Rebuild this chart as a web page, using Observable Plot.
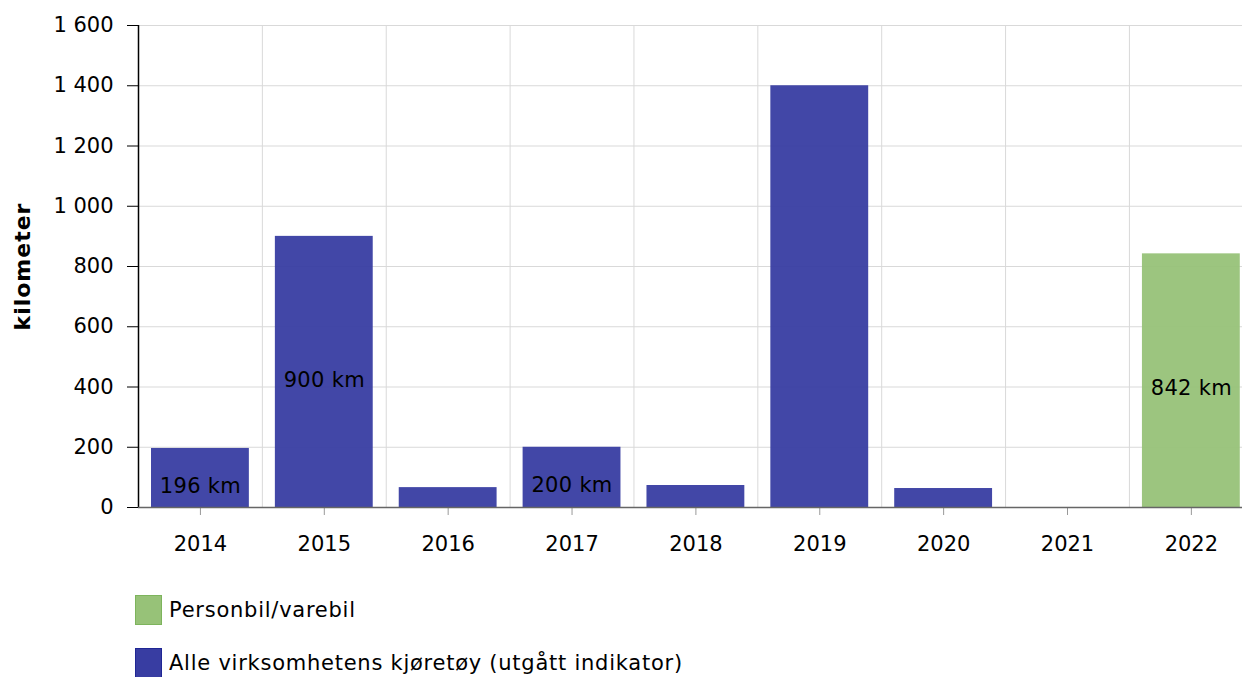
<!DOCTYPE html>
<html>
<head>
<meta charset="utf-8">
<script src="https://cdn.jsdelivr.net/npm/d3@7"></script>
<script src="https://cdn.jsdelivr.net/npm/@observablehq/plot@0.6"></script>
<style>
  html, body { margin: 0; padding: 0; background: #fff; overflow: hidden; }
  body { font-family: "DejaVu Sans", Verdana, sans-serif; }
  #wrap { position: relative; width: 1242px; height: 677px; }
  .leg { position: absolute; left: 135px; display: flex; align-items: center; font-size: 21px; letter-spacing: 0.75px; color: #000; }
  .sw { box-sizing: border-box; margin-right: 7px; }
</style>
</head>
<body>
<div id="wrap"><div id="chart"></div></div>
<script>
const years = ["2014","2015","2016","2017","2018","2019","2020","2021","2022"];
const values = [196, 900, 66, 200, 73, 1400, 63, 0, 842];
const series = ["Alle","Alle","Alle","Alle","Alle","Alle","Alle","Alle","Person"];
const labels = ["196 km","900 km","","200 km","","","","","842 km"];
const yTicks = [0,200,400,600,800,1000,1200,1400,1600];
const legendNames = ["Personbil/varebil","Alle virksomhetens kjøretøy (utgått indikator)"];
const colors = {Alle: "#383da2", Person: "#97c278"};
const borders = {Alle: "#1f2694", Person: "#7db45c"};

const data = years.map((y, i) => ({year: y, value: values[i], series: series[i], label: labels[i]}));
const fmt = d3.formatLocale({decimal: ",", thousands: " ", grouping: [3], currency: ["", ""]}).format(",");

const W = 1242, H = 575;
const xRange = [138, 1252.8];
const step = (xRange[1] - xRange[0]) / years.length;
const font = "DejaVu Sans, Verdana, sans-serif";

const chart = Plot.plot({
  width: W, height: H,
  marginTop: 25, marginBottom: H - 507, marginLeft: 138, marginRight: 0,
  style: {fontFamily: font, fontSize: "21px", color: "#000", background: "#fff"},
  x: {type: "band", domain: years, range: xRange, round: false, paddingInner: 0.21, paddingOuter: 0.105},
  y: {domain: [0, 1600]},
  marks: [
    Plot.gridY(yTicks, {stroke: "#d9d9d9", strokeOpacity: 1}),
    Plot.ruleX(years.slice(1), {x: d => d, dx: -step / 2, stroke: "#d9d9d9"}),
    Plot.barY(data, {x: "year", y: "value", fill: d => colors[d.series], fillOpacity: 0.95}),
    Plot.text(data.filter(d => d.label), {x: "year", y: d => d.value / 2, dy: 8, text: "label", fontSize: 21, fill: "#000"}),
    Plot.axisY({ticks: yTicks, tickFormat: fmt, tickSize: 11, tickPadding: 14, label: null, stroke: "#000", strokeOpacity: 1, fontSize: 21}),
    Plot.ruleX([years[0]], {x: d => d, dx: -step / 2, stroke: "#000", strokeWidth: 1.5}),
    Plot.axisX({tickSize: 8, tickPadding: 21, label: null, stroke: "#999", strokeOpacity: 1, fontSize: 21}),
    Plot.ruleY([0], {stroke: "#666", strokeWidth: 1.5}),
    Plot.text(["kilometer"], {frameAnchor: "left", dx: -116, rotate: -90, textAnchor: "middle", text: d => d, fontWeight: "bold", fontSize: 22, fill: "#000"})
  ]
});
d3.select(chart).selectAll("text").filter(function() { return this.textContent === "kilometer"; }).style("letter-spacing", "1px");
d3.select(chart).selectAll("g[aria-label='text'] text").filter(function() { return this.textContent.endsWith("km"); }).style("letter-spacing", "0.3px");
document.getElementById("chart").appendChild(chart);

const wrap = document.getElementById("wrap");
const legKeys = ["Person", "Alle"];
const tops = [595, 648];
legKeys.forEach((k, i) => {
  const div = document.createElement("div");
  div.className = "leg";
  div.style.top = tops[i] + "px";
  const sw = document.createElement("div");
  sw.className = "sw";
  sw.style.background = colors[k];
  sw.style.border = "1.5px solid " + borders[k];
  sw.style.width = "27px";
  sw.style.height = "30px";
  const t = document.createElement("span");
  t.textContent = legendNames[i];
  div.appendChild(sw);
  div.appendChild(t);
  wrap.appendChild(div);
});
</script>
</body>
</html>
